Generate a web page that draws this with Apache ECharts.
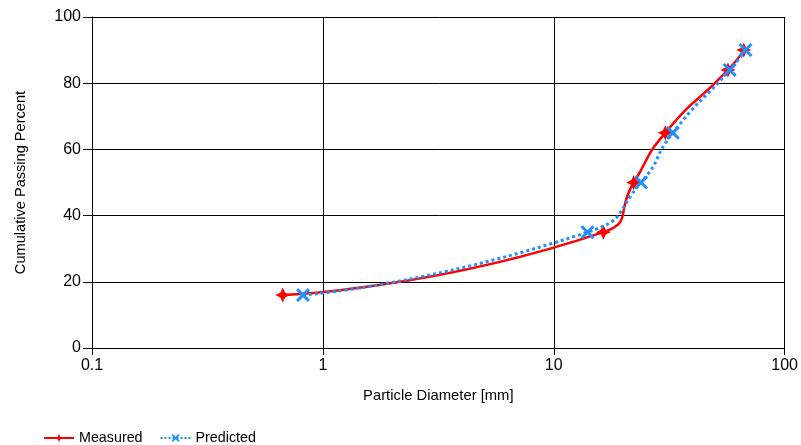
<!DOCTYPE html>
<html>
<head>
<meta charset="utf-8">
<script src="https://cdn.jsdelivr.net/npm/echarts@6/dist/echarts.min.js"></script>
<style>
  html, body { margin: 0; padding: 0; background: #fff; }
  #chart { width: 801px; height: 445px; }
</style>
</head>
<body>
<div id="chart"></div>
<script>
// measured and predicted grading curve
var measuredX = [0.67, 16.4, 22.2, 30.4, 56.8, 66.5];
var measuredY = [16, 35, 50, 65, 84, 90];
var predictedX = [0.82, 14.0, 23.9, 32.8, 57.8, 67.7];
var predictedY = [16, 35, 50, 65, 84, 90];

var starPath = 'path://M0,-10 L3.2,-3.2 L10,0 L3.2,3.2 L0,10 L-3.2,3.2 L-10,0 L-3.2,-3.2 Z';
var crossPath = 'path://M-10,-7 L-7,-10 L0,-3 L7,-10 L10,-7 L3,0 L10,7 L7,10 L0,3 L-7,10 L-10,7 L-3,0 Z';

function pairs(xs, ys) {
  var out = [];
  for (var i = 0; i < xs.length; i++) out.push([xs[i], ys[i]]);
  return out;
}

var chart = echarts.init(document.getElementById('chart'));
var font = 'Liberation Sans';

var option = {
  animation: false,
  textStyle: { fontFamily: font },
  grid: { left: 92, right: 14, top: 17, bottom: 97 },
  legend: {
    left: 38,
    top: 426,
    itemWidth: 30,
    itemHeight: 10,
    itemGap: 17,
    textStyle: { fontSize: 14.3, color: '#000', fontFamily: font },
    data: ['Measured', 'Predicted']
  },
  xAxis: {
    type: 'log',
    logBase: 10,
    min: 0.1,
    max: 100,
    name: 'Particle Diameter [mm]',
    nameLocation: 'middle',
    nameGap: 40,
    nameTextStyle: { fontSize: 14.8, color: '#000' },
    axisLine: { lineStyle: { color: '#000', width: 1 } },
    axisTick: { show: true, length: 7, lineStyle: { color: '#000' } },
    axisLabel: { fontSize: 16, color: '#000', margin: 10 },
    splitLine: { show: true, lineStyle: { color: '#000', width: 1 } },
    minorTick: { show: false },
    minorSplitLine: { show: false }
  },
  yAxis: {
    type: 'value',
    min: 0,
    max: 100,
    interval: 20,
    name: 'Cumulative Passing Percent',
    nameLocation: 'middle',
    nameGap: 64,
    nameTextStyle: { fontSize: 14.6, color: '#000' },
    axisLine: { show: true, lineStyle: { color: '#000', width: 1 } },
    axisTick: { show: true, length: 9, lineStyle: { color: '#000' } },
    axisLabel: { fontSize: 16, color: '#000', margin: 11 },
    splitLine: { show: true, lineStyle: { color: '#000', width: 1 } }
  },
  series: [
    {
      name: 'Measured',
      type: 'line',
      smooth: 0.6,
      data: pairs(measuredX, measuredY),
      symbol: starPath,
      symbolSize: 15,
      itemStyle: { color: '#ff0000' },
      lineStyle: { color: '#ff0000', width: 2.5 },
      z: 2
    },
    {
      name: 'Predicted',
      type: 'line',
      smooth: 0.6,
      data: pairs(predictedX, predictedY),
      symbol: crossPath,
      symbolSize: 14,
      itemStyle: { color: '#1e90ff' },
      lineStyle: { color: '#1e90ff', width: 3, type: 'dotted' },
      z: 3
    }
  ]
};

chart.setOption(option);
</script>
</body>
</html>
